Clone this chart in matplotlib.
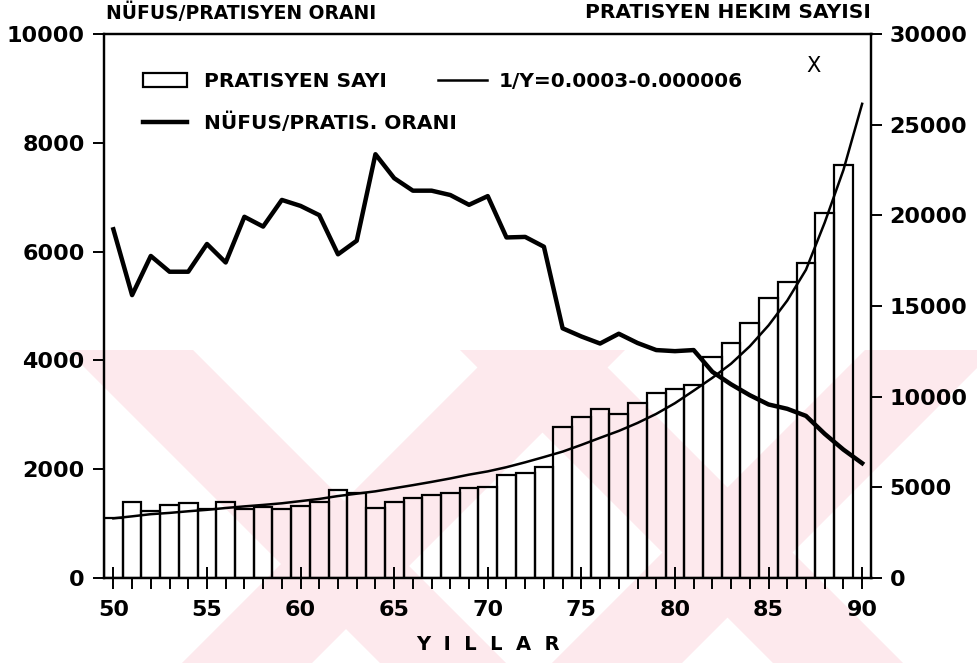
import numpy as np
import matplotlib
matplotlib.use("Agg")
import matplotlib.pyplot as plt
from matplotlib.patches import Polygon, Patch
from matplotlib.lines import Line2D
from matplotlib.ticker import MultipleLocator

plt.rcParams['font.family'] = ['DejaVu Sans']
plt.rcParams['font.weight'] = 'bold'

# years (19xx)
years = np.arange(50, 91)
bar_years = np.arange(50, 90)

# pratisyen hekim sayisi (right axis)
pratisyen = [3290, 4210, 3700, 4030, 4150, 3780, 4180, 3790, 3930, 3790,
             3990, 4180, 4850, 4670, 3840, 4210, 4400, 4580, 4670, 4980,
             5010, 5680, 5790, 6110, 8340, 8880, 9340, 9050, 9650, 10180,
             10430, 10670, 12190, 12980, 14040, 15420, 16340, 17350, 20110, 22780]

# nufus / pratisyen orani (left axis)
oran = [6410, 5200, 5920, 5630, 5630, 6140, 5800, 6640, 6460, 6950,
        6840, 6670, 5950, 6200, 7790, 7350, 7120, 7120, 7040, 6860,
        7020, 6260, 6270, 6090, 4590, 4440, 4310, 4490, 4320, 4190,
        4170, 4190, 3790, 3560, 3360, 3190, 3110, 2980, 2650, 2360, 2110]

# fitted curve 1/Y=a-bX (right axis)
egri = [3290, 3400, 3520, 3590, 3680, 3760, 3860, 3950, 4030, 4120,
        4240, 4360, 4520, 4650, 4780, 4950, 5120, 5300, 5490, 5700,
        5880, 6110, 6380, 6670, 6970, 7340, 7730, 8110, 8550, 9050,
        9640, 10330, 11040, 11820, 12780, 13930, 15300, 17000, 19600, 22500, 26150]

W, H = 978, 663
fig = plt.figure(figsize=(W / 100, H / 100), dpi=100)

# pink watermark in the lower part of the page
pink = '#fde9ed'
for x0, x1, s in [(67, 193, 1), (495, 625, -1), (460, 590, 1), (865, 995, -1)]:
    pts = [(x0, 350), (x1, 350), (x1 + s * 313, 663), (x0 + s * 313, 663)]
    pts = [(px / W, 1 - py / H) for px, py in pts]
    fig.patches.append(Polygon(pts, closed=True, facecolor=pink, edgecolor='none',
                               transform=fig.transFigure, zorder=-5))

ax = fig.add_axes([104 / W, 1 - 578 / H, (871.5 - 104) / W, (578 - 34) / H])
ax.patch.set_visible(False)
ax2 = ax.twinx()

ax.plot(years, oran, color='black', lw=3.2)
ax2.bar(bar_years, pratisyen, width=1.0, fill=False, edgecolor='black', linewidth=1.6)
ax2.plot(years, egri, color='black', lw=1.8)

ax.set_xlim(49.5, 90.5)
ax.set_ylim(0, 10000)
ax2.set_ylim(0, 30000)
ax.set_yticks(range(0, 10001, 2000))
ax2.set_yticks(range(0, 30001, 5000))
ax.xaxis.set_major_locator(MultipleLocator(5))
ax.xaxis.set_minor_locator(MultipleLocator(1))

for a in (ax, ax2):
    for sp in a.spines.values():
        sp.set_linewidth(1.6)
ax.tick_params(axis='x', which='major', direction='inout', length=16, width=1.4,
               labelsize=16, pad=8)
ax.tick_params(axis='x', which='minor', direction='out', length=8, width=1.4)
ax.tick_params(axis='y', direction='out', length=8, width=1.4, labelsize=16, pad=6)
ax2.tick_params(axis='y', direction='out', length=8, width=1.4, labelsize=16, pad=5)

ax.set_xlabel('Y  I  L  L  A  R', fontsize=14, fontweight='bold', labelpad=11)

# legend
h1 = [Patch(fill=False, edgecolor='black', linewidth=1.6),
      Line2D([], [], color='black', lw=3.2)]
leg1 = ax2.legend(h1, ['PRATISYEN SAYI', 'NÜFUS/PRATIS. ORANI'], loc='upper left',
                  bbox_to_anchor=(0.051, 0.93), frameon=False, borderpad=0,
                  borderaxespad=0, handlelength=2.2, handletextpad=0.8,
                  labelspacing=1.05, fontsize=14.5)
ax2.add_artist(leg1)
ax2.legend([Line2D([], [], color='black', lw=1.8)], ['1/Y=0.0003-0.000006'],
           loc='upper left', bbox_to_anchor=((438 - 104) / 767.5, 0.93),
           frameon=False, borderpad=0, borderaxespad=0, handlelength=2.45,
           handletextpad=0.55, fontsize=14.5)
ax2.text(0.924, 0.941, 'X', transform=ax2.transAxes, ha='center', va='center',
         fontsize=15, fontweight='normal')

fig.text(106 / W, 1 - 13 / H, 'NÜFUS/PRATISYEN ORANI', ha='left', va='center',
         fontsize=13.5)
fig.text(871 / W, 1 - 13 / H, 'PRATISYEN HEKIM SAYISI', ha='right', va='center',
         fontsize=14.5)

fig.savefig('out.png', dpi=100)
